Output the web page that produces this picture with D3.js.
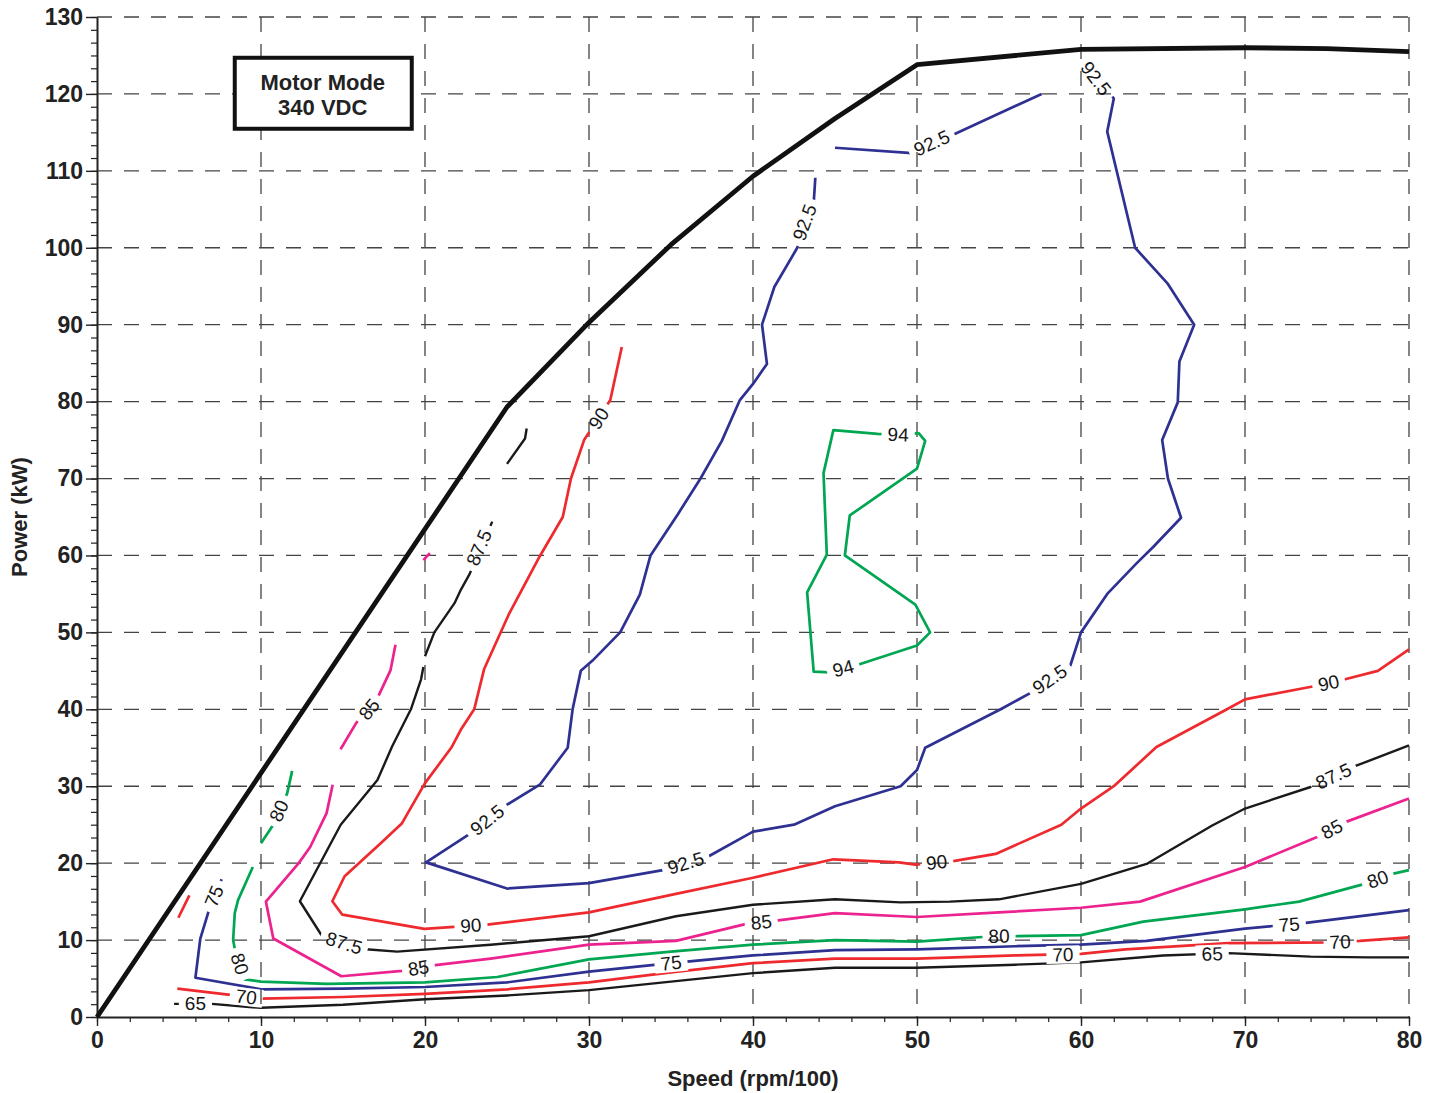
<!DOCTYPE html>
<html>
<head>
<meta charset="utf-8">
<script src="https://cdn.jsdelivr.net/npm/d3@7"></script>
<style>
  body { margin: 0; background: #fff; }
  text { font-family: "Liberation Sans", Arial, sans-serif; }
</style>
</head>
<body>
<div id="chart"></div>
<script>
const width = 1437;
const height = 1093;
const margin = { top: 17, right: 28, bottom: 76, left: 97 };

// axis ticks
const xTicks = [0, 10, 20, 30, 40, 50, 60, 70, 80];
const yTicks = [0, 10, 20, 30, 40, 50, 60, 70, 80, 90, 100, 110, 120, 130];

// max power envelope [speed (rpm/100), power (kW)]
const envelope = [[0, 0], [25, 79.3], [30, 90.3], [35, 100.4], [40, 109.3], [45, 116.8],
  [50, 123.8], [60, 125.8], [70, 126], [75, 125.9], [80, 125.5]];

// efficiency contours, each one a list of polylines
const c65 = [
  [[4.7, 1.7], [7, 1.7], [9.3, 1.3], [10, 1.2], [15, 1.6], [20, 2.3], [25, 2.8], [30, 3.5], [35, 4.6],
   [40, 5.7], [45, 6.4], [50, 6.4], [56, 6.8], [60, 7.1], [65, 8.0], [69, 8.3], [71.3, 8.1], [74, 7.85],
   [77.5, 7.75], [80, 7.75]]
];
const c70 = [
  [[4.9, 3.7], [8, 2.9], [10, 2.4], [15, 2.6], [20, 3.0], [25, 3.6], [30, 4.5], [35, 5.8], [40, 7.0],
   [45, 7.6], [50, 7.6], [56, 8.0], [60, 8.2], [62.7, 8.8], [69, 9.6], [75, 9.7], [77, 9.9], [80, 10.35]],
  [[5.63, 15.8], [4.96, 12.9]]
];
const c75 = [
  [[7.6, 17.9], [6.8, 13.7], [6.3, 10.2], [6.0, 5.1], [10, 3.6], [15, 3.7], [20, 3.9], [25, 4.5],
   [30, 5.9], [35, 7.0], [40, 8.0], [45, 8.7], [50, 8.8], [56, 9.2], [60, 9.4], [64, 9.9], [70, 11.5],
   [73.6, 12.2], [80, 13.9]]
];
const c80 = [
  [[9.5, 19.5], [8.6, 15.2], [8.4, 13.5], [8.3, 10], [8.4, 8.9], [9.0, 4.9], [10, 4.6], [14, 4.3],
   [20, 4.5], [24.4, 5.2], [30, 7.5], [35, 8.5], [40, 9.4], [45, 10.0], [50, 9.8], [54, 10.4], [56, 10.5],
   [60, 10.65], [63.8, 12.4], [70, 14.0], [73.3, 15.0], [77.3, 17.3], [79, 18.6], [80, 19.1]],
  [[10.0, 22.6], [10.75, 25], [11.6, 29.1], [11.9, 32]]
];
const c85 = [
  [[14.37, 30.2], [14.0, 26.5], [13.0, 22.1], [12.3, 20.0], [10.3, 15.0], [10.75, 10.2], [14.9, 5.3],
   [18.6, 6.0], [20.5, 6.7], [24, 7.6], [30, 9.4], [35.3, 9.9], [39.6, 12.1], [41.3, 12.5], [45, 13.5],
   [50, 13.0], [55, 13.6], [60, 14.2], [63.6, 15.0], [70, 19.5], [74.4, 23.4], [76.2, 25.4], [80, 28.4]],
  [[18.2, 48.4], [17.9, 45.1], [17.2, 41.9], [15.8, 38.2], [14.85, 34.8]],
  [[19.9, 59.4], [20.3, 60.3]]
];
const c875 = [
  [[19.9, 45.5], [19.76, 43.9], [19.14, 40], [18.0, 35.2], [17.1, 30.8], [14.86, 25.0], [12.37, 15.05],
   [13.73, 10.5], [16.4, 8.8], [18.3, 8.5], [24, 9.4], [30, 10.5], [35.3, 13.1], [40, 14.6], [45, 15.3],
   [49, 14.9], [52, 15.0], [55, 15.3], [60, 17.3], [64, 19.9], [68, 24.9], [70, 27.1], [74, 29.9],
   [76.7, 32.6], [80, 35.3]],
  [[24.1, 64.4], [22.7, 57.5], [22.2, 55.6], [21.8, 53.8], [20.57, 50], [20.0, 46.9]],
  [[26.2, 76.5], [26.1, 75.2], [25.0, 71.9]]
];
const c90 = [
  [[32.0, 87.1], [31.3, 80.2], [29.7, 75], [28.9, 70], [28.4, 65], [27.0, 59.9], [25.1, 52.3],
   [23.6, 45.2], [23.0, 40], [22.2, 37.4], [21.6, 35.0], [20, 30.4], [18.6, 25.2], [17.3, 22.6],
   [15.1, 18.3], [14.35, 15.05], [14.96, 13.3], [19.96, 11.45], [23.8, 12.0], [30, 13.6], [35.3, 16.0],
   [40, 18.1], [44.9, 20.5], [48.9, 20.1], [49.9, 19.8], [52.3, 20.3], [54.8, 21.2], [58.8, 25], [60, 27.1],
   [62, 30], [64.6, 35.1], [68.9, 40], [70, 41.3], [74.2, 43.0], [76.1, 43.9], [78.1, 45.0], [80, 47.8]]
];
const c925 = [
  [[43.8, 109.1], [43.7, 105.8], [42.7, 100], [41.3, 94.9], [40.55, 90], [40.85, 84.9], [40, 82.3],
   [39.2, 80.2], [38.1, 74.9], [36.8, 70], [35.4, 65.3], [33.75, 60], [33.1, 54.9], [31.9, 50], [30.2, 46.3],
   [29.5, 45.0], [29.0, 40], [28.7, 35], [27, 30.2], [25, 27.6], [22.8, 23.9], [20.06, 20.1], [25, 16.7],
   [30, 17.4], [34.5, 19.1], [37.3, 20.9], [40, 24.1], [42.5, 25.0], [45, 27.4], [49, 30], [50, 32.1],
   [50.5, 35], [55.1, 40], [56.9, 42.1], [59.35, 45.7], [60, 50], [61.6, 55], [63.4, 59], [64.4, 61.1],
   [66.1, 64.9], [65.3, 70], [64.95, 75], [65.9, 79.9], [66.0, 85.2], [66.9, 90], [65.3, 95.3], [63.3, 100],
   [61.6, 115.1], [62.0, 119.4], [60.5, 123.6]],
  [[45.0, 113.0], [49.7, 112.3], [52.2, 114.7], [57.6, 120]]
];
const c94 = [
  [[48.9, 75.7], [50.1, 75.9], [50.5, 74.9], [50, 71.3], [45.9, 65.2], [45.6, 60], [49.9, 53.6], [50.8, 50],
   [50, 48.3], [46.4, 45.8], [44.7, 44.8], [43.7, 44.9], [43.3, 55.2], [44.5, 60.1], [44.3, 70.7],
   [44.9, 76.3], [47.6, 75.8], [48.9, 75.7]]
];

// contour label anchors [speed, power]
const lab65 = [[6.0, 1.7], [68.0, 8.2]];
const lab70 = [[9.1, 2.6], [58.9, 8.1], [75.8, 9.75]];
const lab75 = [[7.15, 15.7], [35.0, 7.0], [72.7, 12.0]];
const lab80 = [[8.7, 6.9], [11.1, 26.8], [55.0, 10.5], [78.1, 17.9]];
const lab85 = [[19.6, 6.35], [16.6, 40.0], [40.5, 12.3], [75.3, 24.4]];
const lab875 = [[15.06, 9.6], [23.3, 61.0], [75.4, 31.3]];
const lab90 = [[30.6, 77.8], [22.8, 11.9], [51.2, 20.1], [75.1, 43.4]];
const lab925 = [[43.15, 103.3], [23.8, 25.6], [35.9, 20.0], [58.1, 43.9], [60.9, 122], [50.9, 113.6]];
const lab94 = [[48.85, 75.7], [45.5, 45.3]];

const contours = [
  { level: "65", lines: c65, labels: lab65 },
  { level: "70", lines: c70, labels: lab70 },
  { level: "75", lines: c75, labels: lab75 },
  { level: "80", lines: c80, labels: lab80 },
  { level: "85", lines: c85, labels: lab85 },
  { level: "87.5", lines: c875, labels: lab875 },
  { level: "90", lines: c90, labels: lab90 },
  { level: "92.5", lines: c925, labels: lab925 },
  { level: "94", lines: c94, labels: lab94 }
];

const levelColor = {
  "65": "#1a1a1a", "70": "#ee2a2e", "75": "#2e3192", "80": "#00a651", "85": "#ec228f",
  "87.5": "#1a1a1a", "90": "#ee2a2e", "92.5": "#2e3192", "94": "#00a651"
};

const svg = d3.select("#chart")
  .append("svg")
  .attr("width", width)
  .attr("height", height);

const x = d3.scaleLinear().domain([0, 80]).range([margin.left, width - margin.right]);
const y = d3.scaleLinear().domain([0, 130]).range([height - margin.bottom, margin.top]);

// dashed grid
const grid = svg.append("g")
  .attr("stroke", "#444")
  .attr("stroke-width", 1.3)
  .attr("stroke-dasharray", "15,12");

grid.selectAll(".vx").data(xTicks.slice(1)).join("line")
  .attr("x1", d => x(d)).attr("x2", d => x(d))
  .attr("y1", y(130)).attr("y2", y(0));

grid.selectAll(".hy").data(yTicks.slice(1)).join("line")
  .attr("x1", x(0)).attr("x2", x(80))
  .attr("y1", d => y(d)).attr("y2", d => y(d));

// axes with minor ticks
const xMinor = d3.range(0, 81, 2);
const yMinor = d3.range(0, 131, 10 / 6);

svg.append("g")
  .attr("transform", `translate(0,${y(0)})`)
  .call(d3.axisBottom(x).tickValues(xMinor).tickSize(5).tickSizeOuter(0).tickFormat(""))
  .call(g => g.selectAll("line").attr("stroke", "#222").attr("stroke-width", 1.2))
  .call(g => g.select(".domain").attr("stroke", "#222").attr("stroke-width", 2));

svg.append("g")
  .attr("transform", `translate(0,${y(0)})`)
  .call(d3.axisBottom(x).tickValues(xTicks).tickSize(9).tickSizeOuter(0).tickPadding(6).tickFormat(d3.format("d")))
  .call(g => g.select(".domain").remove())
  .call(g => g.selectAll("line").attr("stroke", "#222").attr("stroke-width", 1.4))
  .call(g => g.selectAll("text")
    .attr("fill", "#222")
    .style("font-size", "23px")
    .style("font-weight", "bold")
    .style("font-family", "'Liberation Sans', Arial, sans-serif"));

svg.append("g")
  .attr("transform", `translate(${x(0)},0)`)
  .call(d3.axisLeft(y).tickValues(yMinor).tickSize(6).tickSizeOuter(0).tickFormat(""))
  .call(g => g.selectAll("line").attr("stroke", "#222").attr("stroke-width", 1.2))
  .call(g => g.select(".domain").attr("stroke", "#222").attr("stroke-width", 2));

svg.append("g")
  .attr("transform", `translate(${x(0)},0)`)
  .call(d3.axisLeft(y).tickValues(yTicks).tickSize(11).tickSizeOuter(0).tickPadding(3).tickFormat(d3.format("d")))
  .call(g => g.select(".domain").remove())
  .call(g => g.selectAll("line").attr("stroke", "#222").attr("stroke-width", 1.4))
  .call(g => g.selectAll("text")
    .attr("fill", "#222")
    .style("font-size", "23px")
    .style("font-weight", "bold")
    .style("font-family", "'Liberation Sans', Arial, sans-serif"));

// axis titles
svg.append("text")
  .attr("x", (x(0) + x(80)) / 2)
  .attr("y", 1086)
  .attr("text-anchor", "middle")
  .attr("fill", "#222")
  .style("font-size", "22px")
  .style("font-weight", "bold")
  .text("Speed (rpm/100)");

svg.append("text")
  .attr("transform", `translate(27,${(y(0) + y(130)) / 2}) rotate(-90)`)
  .attr("text-anchor", "middle")
  .attr("fill", "#222")
  .style("font-size", "22px")
  .style("font-weight", "bold")
  .text("Power (kW)");

// mask that opens gaps in contour lines where the labels sit
const mask = svg.append("defs").append("mask")
  .attr("id", "labelGaps")
  .attr("maskUnits", "userSpaceOnUse")
  .attr("x", 0).attr("y", 0).attr("width", width).attr("height", height);
mask.append("rect").attr("width", width).attr("height", height).attr("fill", "white");

const line = d3.line().x(d => x(d[0])).y(d => y(d[1]));

const lineG = svg.append("g").attr("mask", "url(#labelGaps)");
contours.forEach(c => {
  lineG.selectAll(null)
    .data(c.lines)
    .join("path")
    .attr("d", line)
    .attr("fill", "none")
    .attr("stroke", levelColor[c.level])
    .attr("stroke-width", c.level === "87.5" || c.level === "65" ? 2.4 : 2.7)
    .attr("stroke-linejoin", "round");
});

// orientation of the line under a label, kept readable
function labelAngle(lines, px, py) {
  let best = [1, 0], bestD = Infinity;
  lines.forEach(pts => {
    for (let i = 0; i < pts.length - 1; i++) {
      const ax = x(pts[i][0]), ay = y(pts[i][1]);
      const bx = x(pts[i + 1][0]), by = y(pts[i + 1][1]);
      const dx = bx - ax, dy = by - ay, L = dx * dx + dy * dy;
      let t = L ? ((px - ax) * dx + (py - ay) * dy) / L : 0;
      t = Math.max(0, Math.min(1, t));
      const dist = Math.hypot(ax + t * dx - px, ay + t * dy - py);
      if (dist < bestD) { bestD = dist; best = [dx, dy]; }
    }
  });
  let a = Math.atan2(best[1], best[0]) * 180 / Math.PI;
  if (a > 90) a -= 180;
  if (a <= -90) a += 180;
  return a;
}

const labelG = svg.append("g");
contours.forEach(c => {
  c.labels.forEach(([lv, lp]) => {
    const px = x(lv), py = y(lp);
    const a = labelAngle(c.lines, px, py);
    const t = labelG.append("text")
      .attr("transform", `translate(${px},${py}) rotate(${a})`)
      .attr("text-anchor", "middle")
      .attr("dominant-baseline", "central")
      .attr("fill", "#161616")
      .style("font-size", "19px")
      .text(c.level);
    const w = t.node().getComputedTextLength() + 12;
    mask.append("rect")
      .attr("x", -w / 2).attr("y", -9)
      .attr("width", w).attr("height", 18)
      .attr("transform", `translate(${px},${py}) rotate(${a})`)
      .attr("fill", "black");
  });
});

// max power envelope
svg.append("path")
  .datum(envelope)
  .attr("d", line)
  .attr("fill", "none")
  .attr("stroke", "#111")
  .attr("stroke-width", 4.8)
  .attr("stroke-linejoin", "round");

// mode box
const box = svg.append("g").attr("transform", `translate(${x(8.4)},${y(124.7)})`);
box.append("rect")
  .attr("width", 177).attr("height", 71)
  .attr("fill", "#fff")
  .attr("stroke", "#111")
  .attr("stroke-width", 4);
box.append("text")
  .attr("x", 88).attr("y", 32)
  .attr("text-anchor", "middle")
  .attr("fill", "#222")
  .style("font-size", "22px")
  .style("font-weight", "bold")
  .text("Motor Mode");
box.append("text")
  .attr("x", 88).attr("y", 57)
  .attr("text-anchor", "middle")
  .attr("fill", "#222")
  .style("font-size", "22px")
  .style("font-weight", "bold")
  .text("340 VDC");
</script>
</body>
</html>
